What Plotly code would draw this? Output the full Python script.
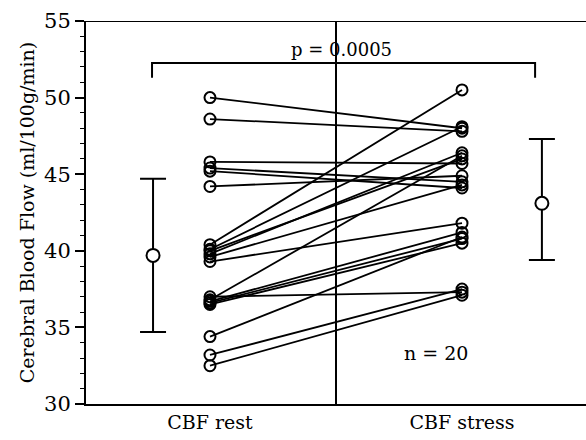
import plotly.graph_objects as go

# ---- data ----
categories = ["CBF rest", "CBF stress"]
cbf_rest = [50.0, 48.6, 45.8, 45.4, 45.2, 44.2,
            40.4, 40.1, 39.8, 40.0, 39.6, 39.3,
            37.0, 36.8, 36.7, 36.6, 36.5,
            34.4, 33.2, 32.5]
cbf_stress = [48.0, 47.8, 45.7, 44.5, 44.1, 44.9,
              50.5, 48.1, 46.4, 46.0, 44.3, 41.8,
              37.3, 46.2, 41.2, 40.8, 40.5,
              40.9, 37.5, 37.1]
mean_values = [39.7, 43.1]
err_plus = [5.0, 4.2]
err_minus = [5.0, 3.7]
p_text = "p = 0.0005"
n_text = "n = 20"

FONT = "DejaVu Serif"
x_rest, x_stress = 1, 2
x_mean = [0.774, 2.317]

# paired lines
lx, ly = [], []
for a, b in zip(cbf_rest, cbf_stress):
    lx += [x_rest, x_stress, None]
    ly += [a, b, None]

fig = go.Figure()
fig.add_trace(go.Scatter(x=lx, y=ly, mode="lines",
                         line=dict(color="black", width=1.8),
                         hoverinfo="skip", showlegend=False))
fig.add_trace(go.Scatter(x=[x_rest] * len(cbf_rest), y=cbf_rest, mode="markers",
                         marker=dict(symbol="circle-open", size=11,
                                     line=dict(color="black", width=2), color="black"),
                         showlegend=False))
fig.add_trace(go.Scatter(x=[x_stress] * len(cbf_stress), y=cbf_stress, mode="markers",
                         marker=dict(symbol="circle-open", size=11,
                                     line=dict(color="black", width=2), color="black"),
                         showlegend=False))
# mean +/- SD
fig.add_trace(go.Scatter(x=x_mean, y=mean_values, mode="markers",
                         error_y=dict(type="data", symmetric=False, array=err_plus,
                                      arrayminus=err_minus, color="black",
                                      thickness=2, width=13),
                         marker=dict(symbol="circle", size=13, color="white",
                                     line=dict(color="black", width=2)),
                         showlegend=False))

# divider line
fig.add_shape(type="line", x0=1.5, x1=1.5, y0=30, y1=55, xref="x", yref="y",
              line=dict(color="black", width=2))
# top border
fig.add_shape(type="line", x0=0, x1=1, y0=55, y1=55, xref="paper", yref="y",
              line=dict(color="black", width=2))
# significance bracket
br_y, br_low = 52.26, 51.3
fig.add_shape(type="path",
              path=f"M {x_mean[0]-0.004},{br_low} L {x_mean[0]-0.004},{br_y} L 2.29,{br_y} L 2.29,{br_low}",
              xref="x", yref="y", line=dict(color="black", width=2))
fig.add_annotation(x=1.52, y=br_y, yshift=1, text=p_text, showarrow=False,
                   yanchor="bottom", font=dict(family=FONT, size=18, color="black"))
fig.add_annotation(x=1.895, y=33.3, text=n_text, showarrow=False,
                   font=dict(family=FONT, size=19, color="black"))

fig.update_layout(
    width=586, height=440,
    margin=dict(l=86, r=0, t=21, b=36),
    plot_bgcolor="white", paper_bgcolor="white",
    font=dict(family=FONT, color="black"),
)
fig.update_xaxes(range=[0.508, 2.492], tickvals=[x_rest, x_stress], ticktext=categories,
                 showgrid=False, zeroline=False, showline=True, linecolor="black",
                 linewidth=2, ticks="", tickfont=dict(family=FONT, size=19, color="black"))
fig.update_yaxes(range=[30, 55], tickvals=[30, 35, 40, 45, 50, 55],
                 showgrid=False, zeroline=False, showline=True, linecolor="black",
                 linewidth=2, ticks="outside", ticklen=9, tickwidth=1.5, tickcolor="black",
                 minor=dict(dtick=1, ticks="outside", ticklen=4, tickwidth=1.2, tickcolor="black"),
                 tickfont=dict(family=FONT, size=21, color="black"),
                 title=dict(text="Cerebral Blood Flow (ml/100g/min)",
                            font=dict(family=FONT, size=19, color="black"), standoff=4))

fig.write_html("out.html", config={"displayModeBar": False},
               post_script="document.body.style.margin='0';")
